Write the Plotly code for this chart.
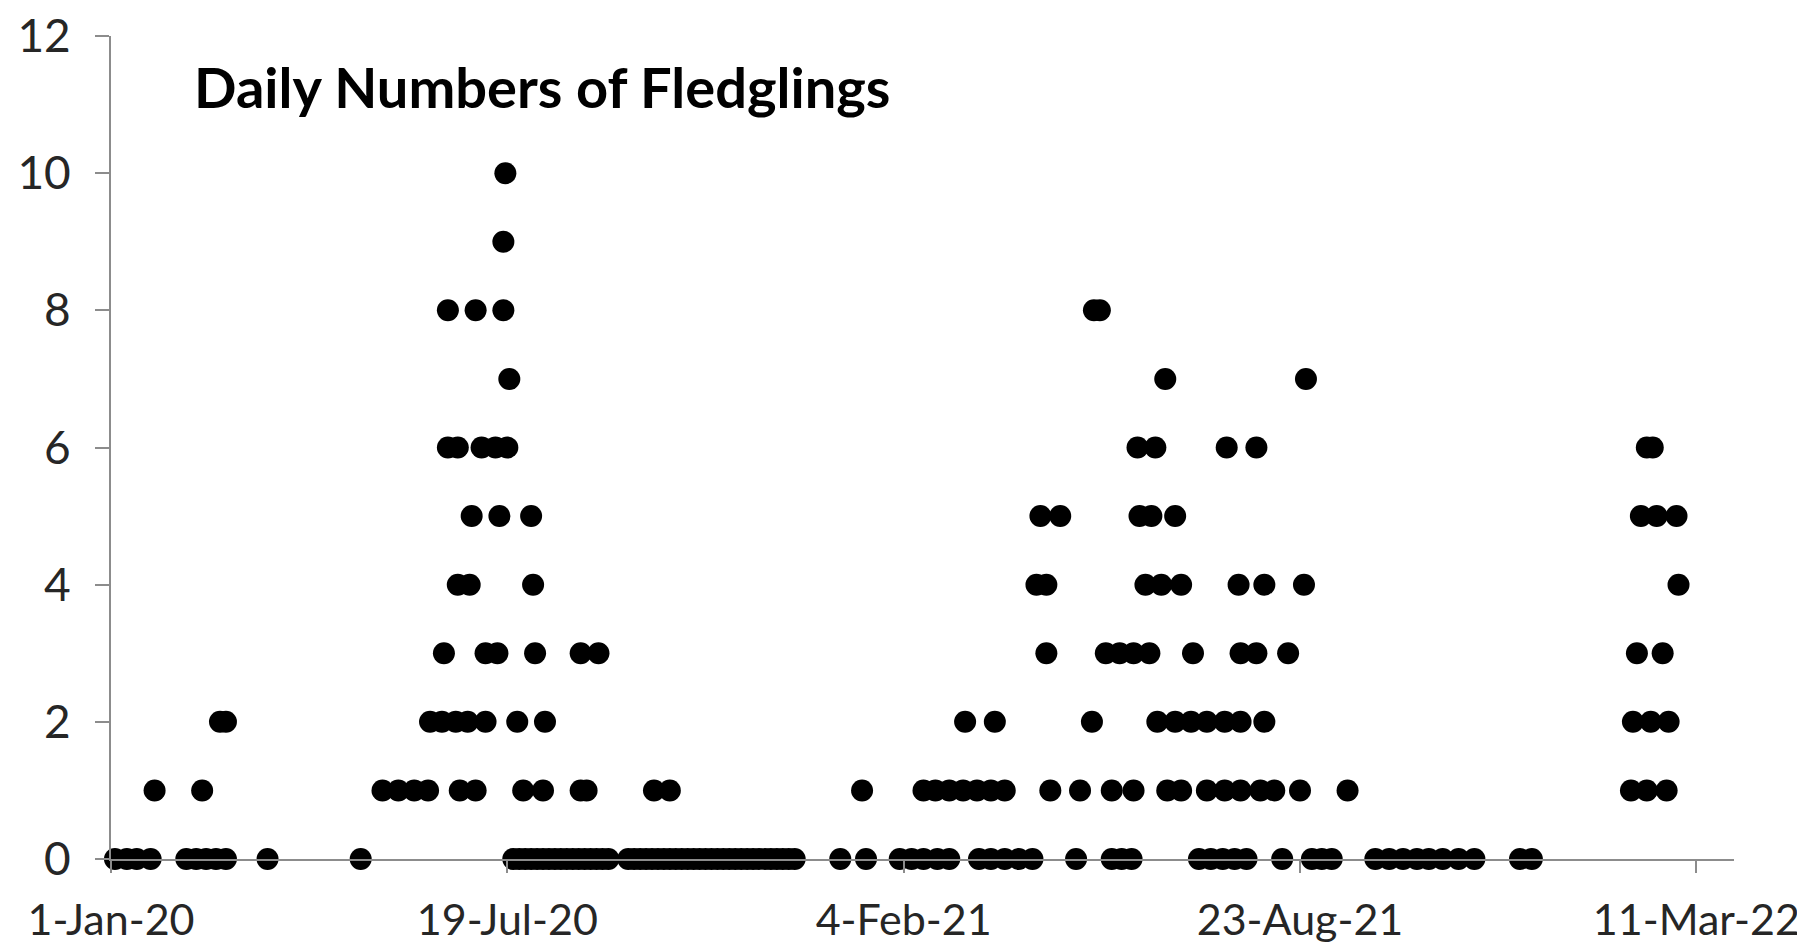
import pandas as pd
import plotly.graph_objects as go

# Day offsets (days after 1-Jan-2020) of observations, grouped by the daily number of fledglings
start_date = "2020-01-01"
days_0 = [2, 8, 13, 20, 38, 43, 48, 53, 58, 79, 126,
          203, 206, 209, 212, 215, 218, 221, 224, 227, 230, 233, 236, 239, 242, 245, 248, 251,
          261, 264, 267, 270, 273, 276, 279, 282, 285, 288, 291, 294, 297, 300, 303, 306, 309,
          312, 315, 318, 321, 324, 327, 330, 333, 336, 339, 342, 345,
          368, 381, 398, 404, 410, 417, 423, 438, 444, 451, 458, 465, 487, 505, 510, 515,
          549, 555, 561, 567, 573, 591, 606, 611, 616,
          638, 645, 652, 659, 665, 672, 680, 688, 711, 717]
days_1 = [22, 46, 137, 145, 153, 160, 176, 184, 208, 218, 237, 240, 274, 282,
          379, 410, 416, 423, 430, 437, 444, 451, 474, 489, 505, 516,
          533, 540, 553, 562, 570, 580, 587, 600, 624, 767, 775, 785]
days_2 = [55, 58, 161, 167, 174, 180, 189, 205, 219,
          431, 446, 495, 528, 537, 545, 553, 562, 570, 582, 768, 777, 786]
days_3 = [168, 189, 195, 214, 237, 246, 472, 502, 509, 516, 524, 546, 570, 578, 594, 770, 783]
days_4 = [175, 181, 213, 467, 472, 522, 530, 540, 569, 582, 602, 791]
days_5 = [182, 196, 212, 469, 479, 519, 525, 537, 772, 780, 790]
days_6 = [170, 175, 187, 194, 200, 518, 527, 563, 578, 775, 778]
days_7 = [201, 532, 603]
days_8 = [170, 184, 198, 496, 499]
days_9 = [198]
days_10 = [199]

tick_days = [0, 200, 400, 600, 800]
tick_labels = ["1-Jan-20", "19-Jul-20", "4-Feb-21", "23-Aug-21", "11-Mar-22"]
y_ticks = [0, 2, 4, 6, 8, 10, 12]
axis_end_day = 819
title_text = "Daily Numbers of Fledglings"

groups = [(0, days_0), (1, days_1), (2, days_2), (3, days_3), (4, days_4), (5, days_5),
          (6, days_6), (7, days_7), (8, days_8), (9, days_9), (10, days_10)]
x_days, y_vals = [], []
for count, dl in groups:
    x_days += dl
    y_vals += [count] * len(dl)

t0 = pd.Timestamp(start_date)
to_date = lambda d: t0 + pd.Timedelta(days=d)
x_dates = [to_date(d) for d in x_days]

fig = go.Figure(go.Scatter(
    x=x_dates, y=y_vals, mode="markers",
    marker=dict(color="black", size=22, line=dict(width=0)),
    cliponaxis=False, showlegend=False))

axis_col = "#8c8c8c"
font_fam = "Lato, Carlito, Calibri, sans-serif"
fig.update_layout(
    width=1805, height=945, template="none",
    paper_bgcolor="white", plot_bgcolor="white",
    margin=dict(l=103, r=79, t=28, b=94),
    xaxis=dict(type="date", range=[to_date(0), to_date(axis_end_day)],
               tickvals=[to_date(d) for d in tick_days], ticktext=tick_labels,
               showgrid=False, zeroline=False, showline=True, linecolor=axis_col, linewidth=2,
               ticks="outside", ticklen=12, tickwidth=2, tickcolor=axis_col,
               tickfont=dict(family=font_fam, size=43, color="#262626"),
               automargin=False, ticklabeloverflow="allow", ticklabelstandoff=10),
    yaxis=dict(range=[0, 12], tickvals=y_ticks, showgrid=False, zeroline=False,
               showline=True, linecolor=axis_col, linewidth=2,
               ticks="outside", ticklen=14, tickwidth=2, tickcolor=axis_col,
               tickfont=dict(family=font_fam, size=46, color="#262626"),
               automargin=False, ticklabeloverflow="allow", ticklabelstandoff=15),
    annotations=[dict(text="<b>" + title_text + "</b>", xref="paper", yref="paper",
                      x=0.0502, y=0.9386, xanchor="left", yanchor="middle", showarrow=False,
                      font=dict(family=font_fam, size=56, color="black"))],
)
fig.write_html("out.html")
